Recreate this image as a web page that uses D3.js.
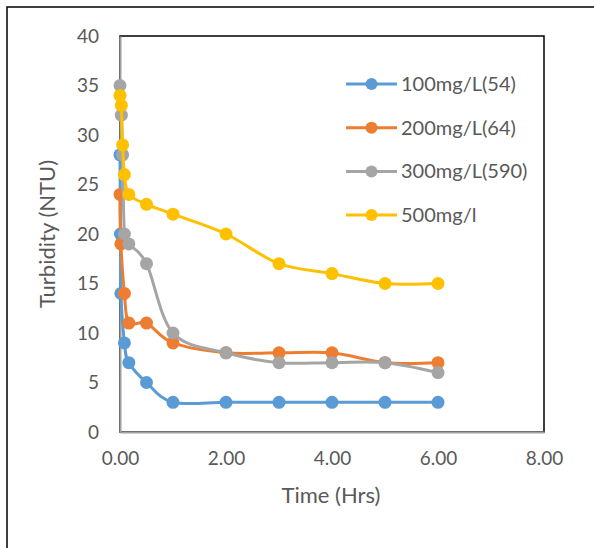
<!DOCTYPE html>
<html><head><meta charset="utf-8">
<script src="https://cdnjs.cloudflare.com/ajax/libs/d3/7.8.5/d3.min.js"></script>
<style>body{margin:0;background:#fff}svg{display:block}text{font-family:Lato,"Open Sans",sans-serif;fill:#595959}</style>
</head><body>
<script>
// Data
const timesBlue   = [0, 0.008, 0.017, 0.083, 0.167, 0.5, 1, 2, 3, 4, 5, 6];
const valuesBlue  = [28, 20, 14, 9, 7, 5, 3, 3, 3, 3, 3, 3];
const timesOrange = [0, 0.017, 0.083, 0.167, 0.5, 1, 2, 3, 4, 5, 6];
const valuesOrange= [24, 19, 14, 11, 11, 9, 8, 8, 8, 7, 7];
const timesGray   = [0, 0.025, 0.05, 0.083, 0.167, 0.5, 1, 2, 3, 4, 5, 6];
const valuesGray  = [35, 32, 28, 20, 19, 17, 10, 8, 7, 7, 7, 6];
const timesYellow = [0, 0.025, 0.05, 0.083, 0.167, 0.5, 1, 2, 3, 4, 5, 6];
const valuesYellow= [34, 33, 29, 26, 24, 23, 22, 20, 17, 16, 15, 15];
const seriesNames = ["100mg/L(54)", "200mg/L(64)", "300mg/L(590)", "500mg/l"];
const seriesColors = ["#5B9BD5", "#ED7D31", "#A5A5A5", "#FFC000"];
const xTicks = [0, 2, 4, 6, 8];
const yTicks = [0, 5, 10, 15, 20, 25, 30, 35, 40];
const xTitle = "Time (Hrs)";
const yTitle = "Turbidity (NTU)";

const series = [
  {t: timesBlue, v: valuesBlue},
  {t: timesOrange, v: valuesOrange},
  {t: timesGray, v: valuesGray},
  {t: timesYellow, v: valuesYellow}
].map((s, i) => ({name: seriesNames[i], color: seriesColors[i], pts: s.t.map((t, j) => [t, s.v[j]])}));

const W = 594, H = 548;
const L = 120, R = 544, T = 36, B = 432;
const svg = d3.select("body").append("svg").attr("width", W).attr("height", H);

// outer chart border
svg.append("rect").attr("x", 7).attr("y", 7).attr("width", 620).attr("height", 620)
  .attr("fill", "#fff").attr("stroke", "#000").attr("stroke-width", 1.5);

const x = d3.scaleLinear().domain([0, 8]).range([L, R]);
const y = d3.scaleLinear().domain([0, 40]).range([B, T]);

// plot area border
svg.append("rect").attr("x", L).attr("y", T).attr("width", R - L).attr("height", B - T)
  .attr("fill", "none").attr("stroke", "#000").attr("stroke-width", 1.5);

// axes
const xAxis = svg.append("g").attr("transform", `translate(0,${B})`)
  .call(d3.axisBottom(x).tickValues(xTicks).tickSize(0).tickPadding(20).tickFormat(d3.format(".2f")));
const yAxis = svg.append("g").attr("transform", `translate(${L},0)`)
  .call(d3.axisLeft(y).tickValues(yTicks).tickSize(0).tickPadding(21));
[xAxis, yAxis].forEach(a => {
  a.select(".domain").attr("stroke", "#A0A0A0").attr("stroke-width", 2);
  a.selectAll("text").style("font-size", "19px").attr("fill", "#595959");
});

svg.append("text").attr("x", 331).attr("y", 503).attr("text-anchor", "middle")
  .style("font-size", "22px").text(xTitle);
svg.append("text").attr("transform", `translate(55,234) rotate(-90)`).attr("text-anchor", "middle")
  .style("font-size", "22px").text(yTitle);

const line = d3.line().x(d => x(d[0])).y(d => y(d[1])).curve(d3.curveCardinal.tension(0));
series.forEach(s => {
  const g = svg.append("g");
  g.append("path").attr("d", line(s.pts)).attr("fill", "none").attr("stroke", s.color)
    .attr("stroke-width", 3).attr("stroke-linejoin", "round");
  g.selectAll("circle").data(s.pts).join("circle")
    .attr("cx", d => x(d[0])).attr("cy", d => y(d[1])).attr("r", 6.5).attr("fill", s.color);
});

// legend
const leg = svg.append("g");
series.forEach((s, i) => {
  const cy = 84 + i * 43.7;
  leg.append("line").attr("x1", 346).attr("x2", 397).attr("y1", cy).attr("y2", cy)
    .attr("stroke", s.color).attr("stroke-width", 3);
  leg.append("circle").attr("cx", 371.5).attr("cy", cy).attr("r", 6).attr("fill", s.color);
  leg.append("text").attr("x", 401).attr("y", cy).attr("dy", "0.35em")
    .style("font-size", "20px").text(s.name);
});
</script>
</body></html>
